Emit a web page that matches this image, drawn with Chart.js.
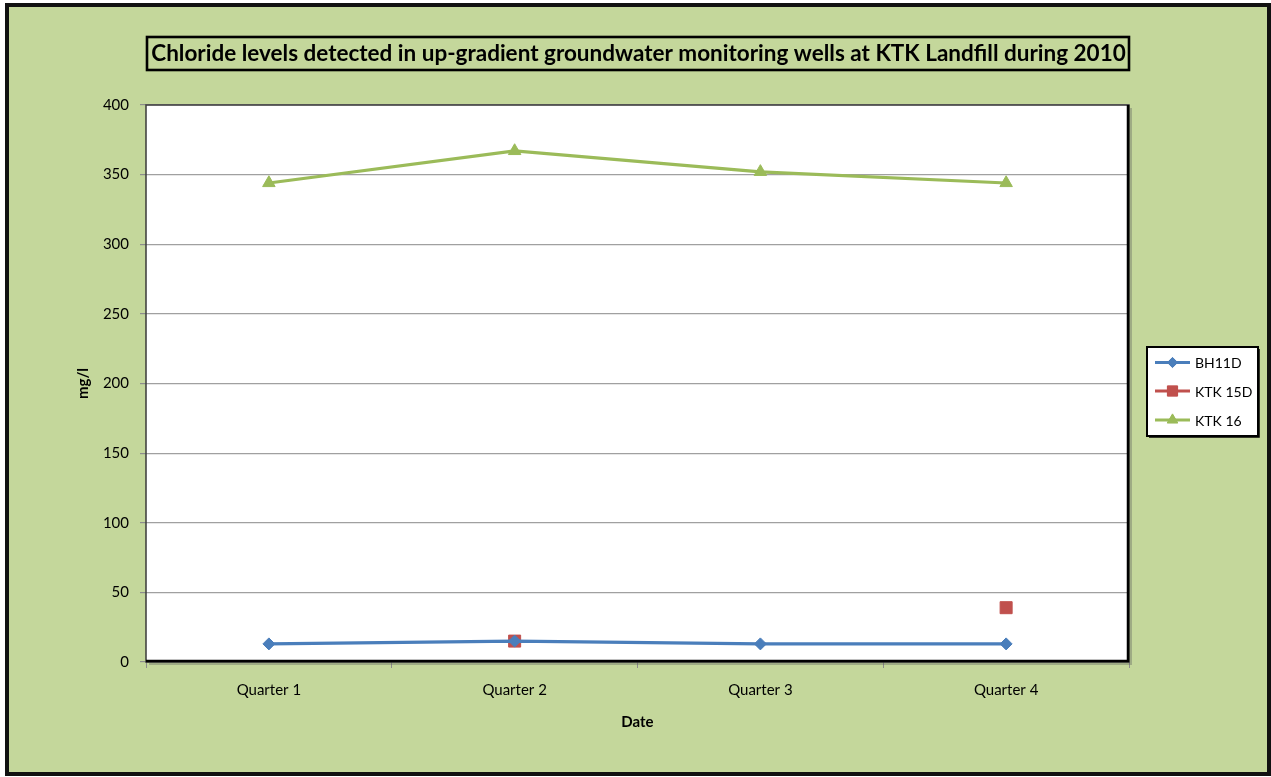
<!DOCTYPE html>
<html>
<head>
<meta charset="utf-8">
<title>Chloride levels – KTK Landfill 2010</title>
<script src="https://cdn.jsdelivr.net/npm/chart.js@4.4.1/dist/chart.umd.min.js"></script>
<style>
  html, body { margin: 0; padding: 0; background: #ffffff; }
  canvas { display: block; }
</style>
</head>
<body>
<canvas id="chart" width="1271" height="777"></canvas>
<script>
// Quarterly chloride readings (mg/l) for the up-gradient wells, 2010
const quarters = ['Quarter 1', 'Quarter 2', 'Quarter 3', 'Quarter 4'];
const bh11d   = [13, 15, 13, 13];
const ktk15d  = [null, 15, null, 39];
const ktk16   = [344, 367, 352, 344];
const yMin = 0, yMax = 400, yStep = 50;

const chartTitle = 'Chloride levels detected in up-gradient groundwater monitoring wells at KTK Landfill during 2010';
const FONT = 'Lato, "Open Sans", sans-serif';
const GREEN_BG = '#c4d79b';

const series = [
  { label: 'BH11D',    data: bh11d,  color: '#4a7ebb', style: 'rectRot',  radius: 6 },
  { label: 'KTK 15D',  data: ktk15d, color: '#c0504d', style: 'rect',     radius: 8.5 },
  { label: 'KTK 16',   data: ktk16,  color: '#9bbb59', style: 'triangle', radius: 7.2 }
];

// Page frame, plot panel, title box and legend are painted around the chart area
const framePlugin = {
  id: 'frame',
  beforeDraw(chart) {
    const ctx = chart.ctx;
    const { left, right, top, bottom } = chart.chartArea;
    ctx.save();
    ctx.fillStyle = '#ffffff';
    ctx.fillRect(0, 0, chart.width, chart.height);
    ctx.fillStyle = '#111111';
    ctx.fillRect(5, 3, 1266, 773);
    ctx.fillStyle = GREEN_BG;
    ctx.fillRect(9, 7, 1258, 765);
    // plot panel
    ctx.fillStyle = '#ffffff';
    ctx.fillRect(left, top, right - left, bottom - top);
    ctx.restore();
  },
  beforeDatasetsDraw(chart) {
    const ctx = chart.ctx;
    const { left, right, top, bottom } = chart.chartArea;
    ctx.save();
    // soft shadow to the right / below the panel
    ctx.strokeStyle = 'rgba(90,90,90,0.35)';
    ctx.lineWidth = 2;
    ctx.beginPath();
    ctx.moveTo(right + 2, top + 3);
    ctx.lineTo(right + 2, bottom + 2);
    ctx.lineTo(left + 3, bottom + 2);
    ctx.stroke();
    // panel outline
    ctx.strokeStyle = '#3a3a3a';
    ctx.lineWidth = 1.5;
    ctx.strokeRect(left, top, right - left, bottom - top);
    ctx.strokeStyle = '#000000';
    ctx.lineWidth = 2.5;
    ctx.beginPath();
    ctx.moveTo(right - 1, top);
    ctx.lineTo(right - 1, bottom - 1);
    ctx.lineTo(left, bottom - 1);
    ctx.stroke();
    ctx.restore();
  },
  afterDraw(chart) {
    const ctx = chart.ctx;
    const { left, right } = chart.chartArea;
    ctx.save();
    // title box
    ctx.fillStyle = GREEN_BG;
    ctx.fillRect(left + 1, 37, right - left - 1, 33);
    ctx.strokeStyle = '#000000';
    ctx.lineWidth = 2.6;
    ctx.strokeRect(left + 1, 37, right - left - 1, 33);
    ctx.fillStyle = '#000000';
    ctx.font = 'bold 22.5px ' + FONT;
    ctx.textAlign = 'center';
    ctx.textBaseline = 'middle';
    ctx.fillText(chartTitle, (left + right) / 2 + 1, 54);

    // legend
    const lx = 1147, ly = 347, lw = 111, lh = 89;
    ctx.fillStyle = '#ffffff';
    ctx.fillRect(lx, ly, lw, lh);
    ctx.strokeStyle = '#000000';
    ctx.lineWidth = 2;
    ctx.strokeRect(lx, ly, lw, lh);
    ctx.lineWidth = 1.5;
    ctx.beginPath();
    ctx.moveTo(lx + lw + 1, ly + 2);
    ctx.lineTo(lx + lw + 1, ly + lh + 1);
    ctx.lineTo(lx + 2, ly + lh + 1);
    ctx.stroke();

    const rows = [362.5, 391, 420];
    series.forEach((s, i) => {
      const y = rows[i];
      ctx.strokeStyle = s.color;
      ctx.lineWidth = 3;
      ctx.beginPath();
      ctx.moveTo(1155, y);
      ctx.lineTo(1190, y);
      ctx.stroke();
      ctx.fillStyle = s.color;
      ctx.lineWidth = 1;
      Chart.helpers.drawPoint(ctx, {
        pointStyle: s.style,
        radius: s.radius * 0.85,
        rotation: 0,
        borderWidth: 1
      }, 1172.5, y);
      ctx.fill();
      ctx.fillStyle = '#000000';
      ctx.font = '14px ' + FONT;
      ctx.textAlign = 'left';
      ctx.textBaseline = 'middle';
      ctx.fillText(s.label, 1195, y + 1);
    });
    ctx.restore();
  }
};

const datasets = series.map(s => ({
  label: s.label,
  data: s.data,
  borderColor: s.color,
  backgroundColor: s.color,
  borderWidth: 3.2,
  tension: 0,
  spanGaps: false,
  pointStyle: s.style,
  pointRadius: s.radius,
  pointHoverRadius: s.radius,
  pointBorderWidth: 1,
  pointBorderColor: s.color,
  pointBackgroundColor: s.color
}));

new Chart(document.getElementById('chart'), {
  type: 'line',
  data: { labels: quarters, datasets },
  plugins: [framePlugin],
  options: {
    responsive: false,
    animation: false,
    devicePixelRatio: 1,
    layout: { padding: { left: 0, right: 142, top: 105, bottom: 0 } },
    plugins: {
      legend: { display: false },
      title: { display: false },
      tooltip: { enabled: false }
    },
    scales: {
      x: {
        offset: true,
        afterFit(scale) { scale.height = 115; },
        grid: {
          offset: true,
          drawOnChartArea: false,
          drawTicks: true,
          tickLength: 6,
          color: '#8c8c8c',
          lineWidth: 1
        },
        border: { display: false },
        ticks: {
          color: '#000000',
          font: { family: FONT, size: 15 },
          padding: 13,
          maxRotation: 0
        },
        title: {
          display: true,
          text: 'Date',
          color: '#000000',
          font: { family: FONT, size: 15, weight: 'bold' },
          padding: { top: 0, bottom: 46 }
        }
      },
      y: {
        min: yMin,
        max: yMax,
        afterFit(scale) { scale.width = 146; },
        grid: {
          color: '#a0a0a0',
          lineWidth: 1.2,
          drawTicks: true,
          tickLength: 6,
          tickColor: '#8c8c8c'
        },
        border: { display: false },
        ticks: {
          stepSize: yStep,
          color: '#000000',
          font: { family: FONT, size: 15 },
          padding: 11
        },
        title: {
          display: true,
          text: 'mg/l',
          color: '#000000',
          font: { family: FONT, size: 15, weight: 'bold' },
          padding: { top: 74, bottom: 0 }
        }
      }
    }
  }
});
</script>
</body>
</html>
